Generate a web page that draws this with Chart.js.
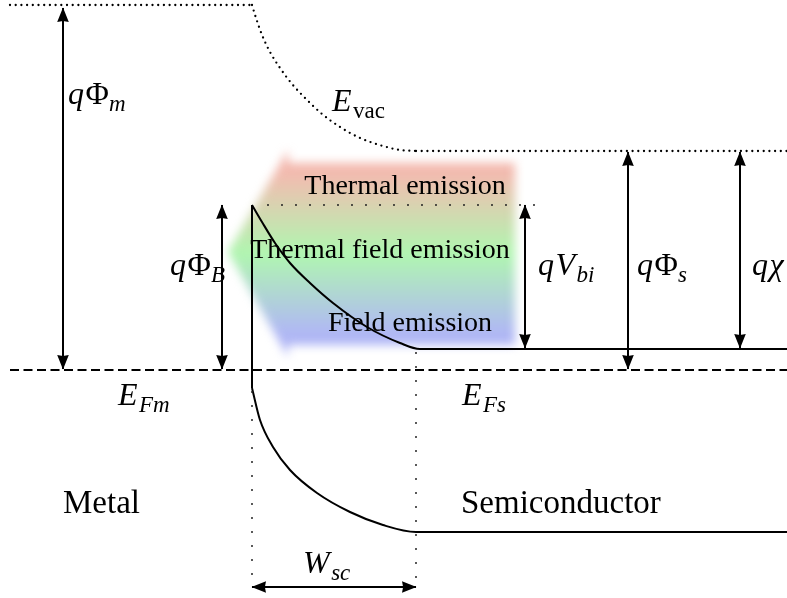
<!DOCTYPE html>
<html>
<head>
<meta charset="utf-8">
<script src="https://cdn.jsdelivr.net/npm/chart.js@4/dist/chart.umd.min.js"></script>
<style>
  html, body { margin: 0; padding: 0; background: #fff; }
  #wrap { width: 787px; height: 598px; }
</style>
</head>
<body>
<div id="wrap"><canvas id="band" width="787" height="598"></canvas></div>
<script>
// Metal / n-type semiconductor (Schottky) band diagram.
// Coordinates: x = position across the contact, y = energy drawn downward (0 at top).

// Energy levels and band edges
const metalVacuum    = [[10, 5], [252, 5]];
const vacuumBend     = [[252, 5], [256, 18], [262, 35], [270, 52], [280, 68], [292, 84], [306, 99],
                        [322, 114], [340, 127], [360, 138], [383, 146], [400, 150], [416, 151]];
const vacuumBulk     = [[416, 151], [787, 151]];
const fermiLevel     = [[10, 370], [787, 370]];
const interfaceWall  = [[252, 205], [252, 388]];
const conductionBand = [[252, 205], [262, 222], [275, 243], [290, 263], [310, 283], [333, 303],
                        [367, 327], [400, 343], [420, 349], [787, 349]];
const valenceBand    = [[252, 388], [260, 420], [273, 447], [290, 470], [317, 493], [350, 512],
                        [383, 525], [416, 532], [787, 532]];
const barrierTop     = [[268, 205], [537, 205]];
const depletionLeft  = [[252, 392], [252, 587]];
const depletionRight = [[416, 353], [416, 587]];

// Double-headed dimension arrows
const arrowPhiM = [[63, 8], [63, 369]];
const arrowPhiB = [[222, 205], [222, 369]];
const arrowVbi  = [[525, 205], [525, 348]];
const arrowPhiS = [[628, 152], [628, 369]];
const arrowChi  = [[740, 152], [740, 348]];
const arrowWsc  = [[252, 587], [416, 587]];

// Outline of the broad emission arrow (tip first)
const emissionArrow = [[228, 252], [288, 150], [288, 163], [515, 163], [515, 345], [288, 345], [288, 357]];

// Text
const emissionNames = ['Thermal emission', 'Thermal field emission', 'Field emission'];
const regionNames = ['Metal', 'Semiconductor'];

const SERIF = '"Liberation Serif", "DejaVu Serif", serif';

const toXY = a => a.map(([x, y]) => ({ x, y }));

function lineSet(points, extra) {
  return Object.assign({
    data: toXY(points),
    showLine: true,
    borderColor: '#000',
    borderWidth: 2,
    pointRadius: 0,
    pointHoverRadius: 0,
    fill: false,
    tension: 0
  }, extra || {});
}

const dotted = { borderDash: [0, 5.7], borderCapStyle: 'round', borderWidth: 2.3 };
const sparseDots = { borderDash: [0, 14], borderCapStyle: 'round', borderWidth: 2, borderColor: '#222' };
const curve = { cubicInterpolationMode: 'monotone' };
const arrow = { arrowHeads: true, borderWidth: 2 };

const datasets = [
  lineSet(emissionArrow, { showLine: false, emissionShape: true }),
  lineSet(metalVacuum, dotted),
  lineSet(vacuumBend, Object.assign({}, dotted, curve)),
  lineSet(vacuumBulk, dotted),
  lineSet(fermiLevel, { borderDash: [9, 4.5], borderWidth: 2 }),
  lineSet(barrierTop, sparseDots),
  lineSet(depletionLeft, sparseDots),
  lineSet(depletionRight, sparseDots),
  lineSet(interfaceWall),
  lineSet(conductionBand, curve),
  lineSet(valenceBand, curve),
  lineSet(arrowPhiM, arrow),
  lineSet(arrowPhiB, arrow),
  lineSet(arrowVbi, arrow),
  lineSet(arrowPhiS, arrow),
  lineSet(arrowChi, arrow),
  lineSet(arrowWsc, arrow)
];

// Blurred red-green-blue arrow behind the band diagram
const emissionPlugin = {
  id: 'emissionShape',
  beforeDatasetsDraw(chart) {
    const ctx = chart.ctx;
    chart.data.datasets.forEach((ds, i) => {
      if (!ds.emissionShape) return;
      const pts = chart.getDatasetMeta(i).data;
      const ys = pts.map(p => p.y);
      const top = Math.min(...ys), bottom = Math.max(...ys);
      const g = ctx.createLinearGradient(0, top, 0, bottom);
      g.addColorStop(0.0, 'rgb(244,176,168)');
      g.addColorStop(0.12, 'rgb(242,188,176)');
      g.addColorStop(0.5, 'rgb(176,246,176)');
      g.addColorStop(0.88, 'rgb(176,184,244)');
      g.addColorStop(1.0, 'rgb(174,178,246)');
      ctx.save();
      ctx.filter = 'blur(5px)';
      ctx.fillStyle = g;
      ctx.beginPath();
      pts.forEach((p, k) => (k ? ctx.lineTo(p.x, p.y) : ctx.moveTo(p.x, p.y)));
      ctx.closePath();
      ctx.fill();
      ctx.restore();
    });
  }
};

function drawHead(ctx, x, y, dx, dy) {
  const L = Math.hypot(dx, dy);
  const ux = dx / L, uy = dy / L;
  const len = 14, half = 5.8;
  const bx = x - ux * len, by = y - uy * len;
  ctx.beginPath();
  ctx.moveTo(x + ux * 0.5, y + uy * 0.5);
  ctx.lineTo(bx - uy * half, by + ux * half);
  ctx.lineTo(x - ux * len * 0.92, y - uy * len * 0.92);
  ctx.lineTo(bx + uy * half, by - ux * half);
  ctx.closePath();
  ctx.fill();
}

const arrowPlugin = {
  id: 'arrowHeads',
  afterDatasetsDraw(chart) {
    const ctx = chart.ctx;
    ctx.save();
    ctx.fillStyle = '#000';
    chart.data.datasets.forEach((ds, i) => {
      if (!ds.arrowHeads) return;
      const pts = chart.getDatasetMeta(i).data;
      const a = pts[0], b = pts[pts.length - 1];
      drawHead(ctx, b.x, b.y, b.x - a.x, b.y - a.y);
      drawHead(ctx, a.x, a.y, a.x - b.x, a.y - b.y);
    });
    ctx.restore();
  }
};

// Labels: plain text and math-style symbols with subscripts
const MAIN = 32, SUB = 23, DROP = 7;
const plainLabels = [
  { text: emissionNames[0], x: 405, y: 194, size: 28, align: 'center' },
  { text: emissionNames[1], x: 380, y: 258, size: 28, align: 'center' },
  { text: emissionNames[2], x: 410, y: 331, size: 28, align: 'center' },
  { text: regionNames[0], x: 63, y: 513, size: 33, align: 'left' },
  { text: regionNames[1], x: 461, y: 513, size: 33, align: 'left' }
];
// each part: [text, italic?, subscript?]
const mathLabels = [
  { parts: [['q', 1, 0], ['Φ', 0, 0], ['m', 1, 1]], x: 68, y: 104 },
  { parts: [['E', 1, 0], ['vac', 0, 1]], x: 332, y: 111 },
  { parts: [['q', 1, 0], ['Φ', 0, 0], ['B', 1, 1]], x: 170, y: 275 },
  { parts: [['q', 1, 0], ['V', 1, 0], ['bi', 1, 1]], x: 538, y: 275 },
  { parts: [['q', 1, 0], ['Φ', 0, 0], ['s', 1, 1]], x: 637, y: 275 },
  { parts: [['q', 1, 0], ['χ', 1, 0]], x: 752, y: 275 },
  { parts: [['E', 1, 0], ['Fm', 1, 1]], x: 118, y: 405 },
  { parts: [['E', 1, 0], ['Fs', 1, 1]], x: 462, y: 405 },
  { parts: [['W', 1, 0], ['sc', 1, 1]], x: 303, y: 573 }
];

const labelPlugin = {
  id: 'labels',
  afterDatasetsDraw(chart) {
    const ctx = chart.ctx;
    const sx = chart.scales.x, sy = chart.scales.y;
    ctx.save();
    ctx.fillStyle = '#000';
    ctx.textBaseline = 'alphabetic';
    plainLabels.forEach(l => {
      ctx.font = l.size + 'px ' + SERIF;
      ctx.textAlign = l.align;
      ctx.fillText(l.text, sx.getPixelForValue(l.x), sy.getPixelForValue(l.y));
    });
    ctx.textAlign = 'left';
    mathLabels.forEach(l => {
      let px = sx.getPixelForValue(l.x);
      const py = sy.getPixelForValue(l.y);
      l.parts.forEach(([t, it, sub]) => {
        ctx.font = (it ? 'italic ' : '') + (sub ? SUB : MAIN) + 'px ' + SERIF;
        ctx.fillText(t, px, py + (sub ? DROP : 0));
        px += ctx.measureText(t).width + (it && !sub ? 1.5 : 0) + (it && sub ? 1 : 0);
      });
    });
    ctx.restore();
  }
};

new Chart(document.getElementById('band'), {
  type: 'scatter',
  data: { datasets },
  options: {
    responsive: false,
    animation: false,
    events: [],
    layout: { padding: 0 },
    scales: {
      x: { type: 'linear', min: 0, max: 787, display: false },
      y: { type: 'linear', min: 0, max: 598, reverse: true, display: false }
    },
    plugins: {
      legend: { display: false },
      tooltip: { enabled: false },
      title: { display: false }
    }
  },
  plugins: [emissionPlugin, arrowPlugin, labelPlugin]
});
</script>
</body>
</html>
